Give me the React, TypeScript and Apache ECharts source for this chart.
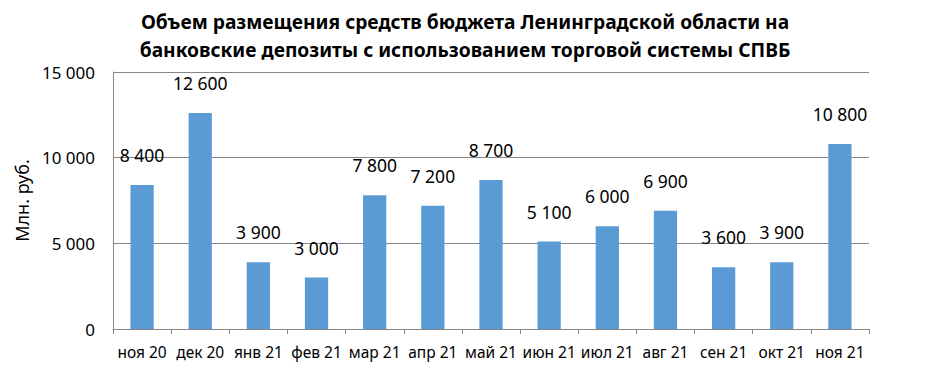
import React, { useEffect, useRef } from "react";
import * as echarts from "echarts";

const categories = ["ноя 20", "дек 20", "янв 21", "фев 21", "мар 21", "апр 21", "май 21", "июн 21", "июл 21", "авг 21", "сен 21", "окт 21", "ноя 21"];
const values = [8400, 12600, 3900, 3000, 7800, 7200, 8700, 5100, 6000, 6900, 3600, 3900, 10800];
const titleLines = ["Объем размещения средств бюджета Ленинградской области на", "банковские депозиты с использованием торговой системы СПВБ"];
const yAxisName = "Млн. руб.";

const fmt = (v: number) => String(v).replace(/\B(?=(\d{3})+(?!\d))/g, " ");
const FONT = "Noto Sans";

export default function App() {
  const ref = useRef<HTMLDivElement>(null);
  useEffect(() => {
    const chart = echarts.init(ref.current!, null, { renderer: "svg" });
    chart.setOption({
      animation: false,
      backgroundColor: "#ffffff",
      title: {
        text: titleLines.join("\n"),
        left: "center",
        top: 2,
        textStyle: { fontFamily: FONT, fontWeight: "bold", fontSize: 19.2, lineHeight: 28, color: "#000" },
      },
      grid: { left: 113, right: 61, top: 72, bottom: 44 },
      xAxis: {
        type: "category",
        data: categories,
        axisLine: { lineStyle: { color: "#868686", width: 1 } },
        axisTick: { show: true, alignWithLabel: false, length: 5, lineStyle: { color: "#868686" } },
        axisLabel: { fontFamily: FONT, fontSize: 15.5, color: "#000", margin: 15, interval: 0 },
      },
      yAxis: {
        type: "value",
        min: 0,
        max: 15000,
        interval: 5000,
        name: yAxisName,
        nameLocation: "middle",
        nameGap: 76,
        nameTextStyle: { fontFamily: FONT, fontSize: 18, color: "#000" },
        axisLine: { show: true, lineStyle: { color: "#868686" } },
        axisTick: { show: false },
        splitLine: { lineStyle: { color: "#868686", width: 1 } },
        axisLabel: { fontFamily: FONT, fontSize: 17, color: "#000", margin: 18, formatter: (v: number) => fmt(v) },
      },
      series: [
        {
          type: "bar",
          data: values,
          barWidth: "40%",
          itemStyle: { color: "#5B9BD5" },
          label: {
            show: true,
            position: "top",
            distance: 21,
            fontFamily: FONT,
            fontSize: 17.5,
            color: "#000",
            formatter: (p: any) => fmt(p.value),
          },
        },
      ],
    });
    return () => chart.dispose();
  }, []);
  return <div ref={ref} style={{ position: "absolute", left: 0, top: 0, width: 930, height: 373 }} />;
}
